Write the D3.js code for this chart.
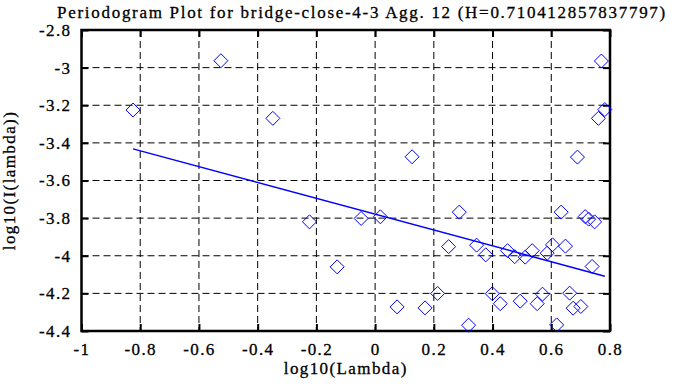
<!DOCTYPE html>
<html>
<head>
<meta charset="utf-8">
<script src="https://cdn.jsdelivr.net/npm/d3@7"></script>
<style>
  html, body { margin: 0; padding: 0; background: #fff; }
</style>
</head>
<body>
<svg id="chart" width="688" height="387"></svg>
<script>
// ---- data ----
const titleText = "Periodogram Plot for bridge-close-4-3 Agg. 12 (H=0.710412857837797)";
const xLabel = "log10(Lambda)";
const yLabel = "log10(I(lambda))";
const xTicks = [-1, -0.8, -0.6, -0.4, -0.2, 0, 0.2, 0.4, 0.6, 0.8];
const yTicks = [-2.8, -3, -3.2, -3.4, -3.6, -3.8, -4, -4.2, -4.4];
const pointX = [-0.8245, -0.5252, -0.3483, 0.1259, 0.6891, 0.7707, 0.7823, 0.7605,
  -0.2235, -0.1293, -0.0476, 0.0180, 0.0748, 0.1701, 0.2129, 0.2503, 0.2867, 0.3184,
  0.3456, 0.3769, 0.3990, 0.4262, 0.4510, 0.4755, 0.4942, 0.5112, 0.5350, 0.5520,
  0.5701, 0.5861, 0.6041, 0.6184, 0.6337, 0.6483, 0.6626, 0.6745, 0.7007, 0.7153,
  0.7272, 0.7476, 0.7391];
const pointY = [-3.2255, -2.9633, -3.2697, -3.4739, -3.4755, -2.9649, -3.2229, -3.2697,
  -3.8197, -4.0590, -3.8016, -3.7931, -4.2718, -4.2771, -4.2005, -3.9516, -3.7681, -4.3691,
  -3.9436, -3.9952, -4.2016, -4.2548, -3.9729, -4.0048, -4.2415, -4.0074, -3.9729, -4.2548,
  -4.2043, -3.9862, -3.9420, -4.3676, -3.7681, -3.9489, -4.1989, -4.2787, -4.2697, -3.7920,
  -3.8053, -3.8197, -4.0569];
const fitX = [-0.8245, 0.7823];
const fitY = [-3.432, -4.1085];

// ---- layout ----
const FONT = "Liberation Serif";
const svg = d3.select("#chart");
const L = 81.5, R = 610, T = 30, B = 331;
const x = d3.scaleLinear().domain([-1, 0.8]).range([L, R]);
const y = d3.scaleLinear().domain([-4.4, -2.8]).range([B, T]);
const fontSize = 17, ls = "1.4px";
const fmt = d => String(d);

function styleText(sel, spacing) {
  sel.attr("font-family", FONT).style("font-family", FONT)
    .attr("font-size", fontSize).style("letter-spacing", spacing)
    .attr("fill", "#000").attr("stroke", "#000").attr("stroke-width", 0.3);
}

// grid
const grid = svg.append("g");
grid.selectAll("line.vx").data(xTicks.slice(1, -1)).enter().append("line")
  .attr("x1", d => x(d)).attr("x2", d => x(d)).attr("y1", T).attr("y2", B)
  .attr("stroke", "#000").attr("stroke-width", 1).attr("stroke-dasharray", "7,4");
grid.selectAll("line.hy").data(yTicks.slice(1, -1)).enter().append("line")
  .attr("y1", d => y(d)).attr("y2", d => y(d)).attr("x1", L).attr("x2", R)
  .attr("stroke", "#000").attr("stroke-width", 1).attr("stroke-dasharray", "7,4");

// axes (ticks inward)
function styleAxis(g, showLabels) {
  g.attr("font-family", FONT).attr("font-size", fontSize);
  g.select(".domain").remove();
  g.selectAll(".tick line").attr("stroke", "#000").attr("stroke-width", 2);
  if (!showLabels) g.selectAll(".tick text").remove();
  else styleText(g.selectAll(".tick text"), ls);
}
svg.append("g").attr("transform", `translate(0,${B})`)
  .call(d3.axisBottom(x).tickValues(xTicks).tickSize(-7).tickPadding(12).tickFormat(fmt))
  .call(g => styleAxis(g, true));
svg.append("g").attr("transform", `translate(0,${T})`)
  .call(d3.axisTop(x).tickValues(xTicks).tickSize(-7))
  .call(g => styleAxis(g, false));
svg.append("g").attr("transform", `translate(${L},0)`)
  .call(d3.axisLeft(y).tickValues(yTicks).tickSize(-7).tickPadding(10).tickFormat(fmt))
  .call(g => styleAxis(g, true));
svg.append("g").attr("transform", `translate(${R},0)`)
  .call(d3.axisRight(y).tickValues(yTicks).tickSize(-7))
  .call(g => styleAxis(g, false));

// border
svg.append("rect").attr("x", L).attr("y", T).attr("width", R - L).attr("height", B - T)
  .attr("fill", "none").attr("stroke", "#000").attr("stroke-width", 2.5);

// fit line
const line = d3.line().x(d => x(d[0])).y(d => y(d[1]));
svg.append("path").datum(fitX.map((v, i) => [v, fitY[i]]))
  .attr("d", line).attr("fill", "none").attr("stroke", "#0000ff").attr("stroke-width", 1.5);

// diamonds
const s = 7;
svg.append("g").selectAll("path").data(pointX.map((v, i) => [v, pointY[i]])).enter().append("path")
  .attr("d", d => {
    const cx = x(d[0]), cy = y(d[1]);
    return `M${cx},${cy - s}L${cx + s},${cy}L${cx},${cy + s}L${cx - s},${cy}Z`;
  })
  .attr("fill", "none").attr("stroke", "#0000ff").attr("stroke-width", 1);

// title & labels
svg.append("text").attr("x", 362).attr("y", 18).attr("text-anchor", "middle")
  .call(t => styleText(t, "1.7px")).text(titleText);
svg.append("text").attr("x", (L + R) / 2).attr("y", 374).attr("text-anchor", "middle")
  .call(t => styleText(t, ls)).text(xLabel);
svg.append("text").attr("transform", `translate(15,${(T + B) / 2}) rotate(-90)`)
  .attr("text-anchor", "middle").call(t => styleText(t, ls)).text(yLabel);
</script>
</body>
</html>
